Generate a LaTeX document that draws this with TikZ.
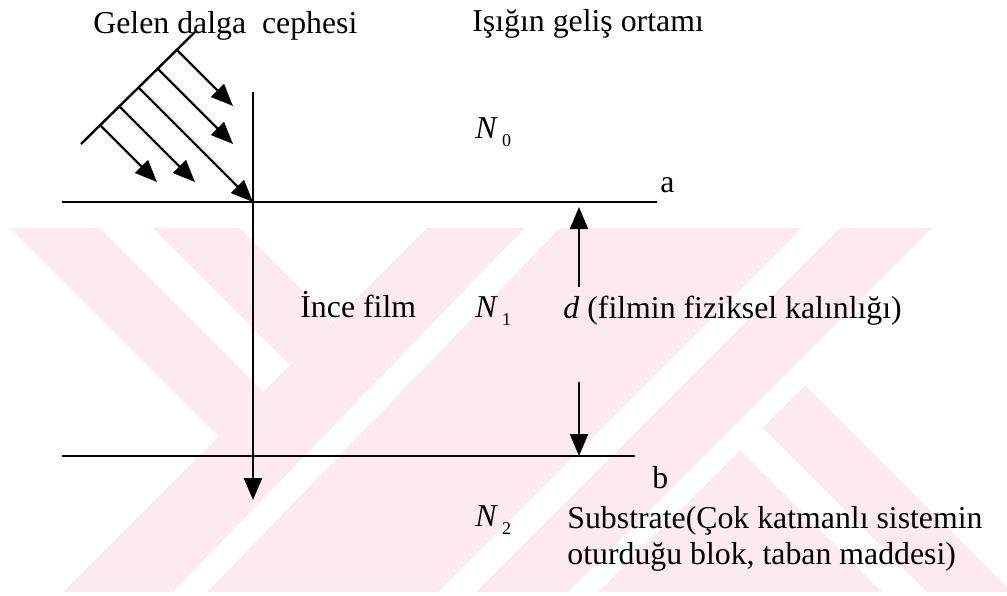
\documentclass[tikz,border=0pt]{standalone}
\usepackage{fontspec}
\setmainfont{Liberation Serif}
\usetikzlibrary{arrows.meta, calc}

\definecolor{wmpink}{RGB}{252,234,238}
\newcommand{\Nidx}[1]{\textit{N}\hspace{2pt}\raisebox{-4pt}{\fontsize{9}{10}\selectfont #1}}

\begin{document}
\begin{tikzpicture}[x=0.5pt, y=-0.5pt, >={Triangle[length=11pt, width=9pt]},
    lbl/.style={anchor=base west, inner sep=0pt, font=\fontsize{15.9}{19}\selectfont},
    ray/.style={->, line width=1.2pt},
    layer/.style={line width=1pt}]
    \useasboundingbox (0,0) rectangle (1007,595);

    % Watermark behind the figure
    \begin{scope}
        \clip (0,228) rectangle (1007,592);
        \fill[wmpink] (0,228) rectangle (1007,592);
        \fill[white] (218.5,436.5) -- (-281.5,936.5) -- (-281.5,-63.5) -- cycle;
        \fill[white] (263.5,391.5) -- (290,365) -- (-37.5,37.5) -- (-64,64) -- cycle;
        \fill[white] (333.5,321.5) -- (933.5,-278.5) -- (-266.5,-278.5) -- cycle;
        \fill[white] (552,200) -- (587,200) -- (180,620) -- (146,620) -- cycle;
        \fill[white] (930,100) -- (968,100) -- (368,700) -- (330,700) -- cycle;
        \fill[white] (1060,100) -- (1090,100) -- (490,700) -- (460,700) -- cycle;
        \fill[white] (797.5,377.5) -- (1397.5,-222.5) -- (1397.5,977.5) -- cycle;
        \fill[white] (735,445) -- (757.5,422.5) -- (1157.5,822.5) -- (1135,845) -- cycle;
    \end{scope}

    % Film boundaries a and b
    \coordinate (aL) at (62,202);
    \coordinate (aR) at (657,202);
    \coordinate (bL) at (62,456);
    \coordinate (bR) at (635,456);
    \draw[layer] (aL) -- (aR);
    \draw[layer] (bL) -- (bR);

    % Normal through the film
    \coordinate (O) at (253,202);
    \coordinate (nTop) at (253,92);
    \coordinate (nTip) at (253,500);
    \draw[->, line width=1.2pt] (nTop) -- (nTip);

    % Incoming wave front and its rays
    \coordinate (wfL) at (81,144);
    \coordinate (wfR) at (195,32);
    \draw[line width=1.2pt] (wfL) -- (wfR);
    \foreach \k/\len in {1/56, 2/75, 3/114, 4/75, 5/56} {
        \coordinate (s\k) at ({139+19*(3-\k)}, {88-19*(3-\k)});
        \coordinate (t\k) at ($(s\k)+(\len,\len)$);
        \draw[ray] (s\k) -- (t\k);
    }

    % Thickness d
    \coordinate (dUp) at (579,287);
    \coordinate (dUpTip) at (579,207);
    \coordinate (dDn) at (579,382);
    \coordinate (dDnTip) at (579,456);
    \draw[->, line width=1pt] (dUp) -- (dUpTip);
    \draw[->, line width=1pt] (dDn) -- (dDnTip);

    % Labels
    \node[lbl] (front) at (93,33) {Gelen dalga\ \ cephesi};
    \node[lbl] (medium) at (472,31) {Işığın geliş ortamı};
    \node[lbl] (N0) at (475,138) {\Nidx{0}};
    \node[lbl] (la) at (660,192) {a};
    \node[lbl] (film) at (300,317) {İnce film};
    \node[lbl] (N1) at (475,317) {\Nidx{1}};
    \node[lbl] (dtext) at (563,318) {\textit{d} (filmin fiziksel kalınlığı)};
    \node[lbl] (lb) at (652,488) {b};
    \node[lbl] (N2) at (475,526) {\Nidx{2}};
    \node[lbl] (sub1) at (567,528) {Substrate(Çok katmanlı sistemin};
    \node[lbl] (sub2) at (567,564) {oturduğu blok, taban maddesi)};
\end{tikzpicture}
\end{document}
